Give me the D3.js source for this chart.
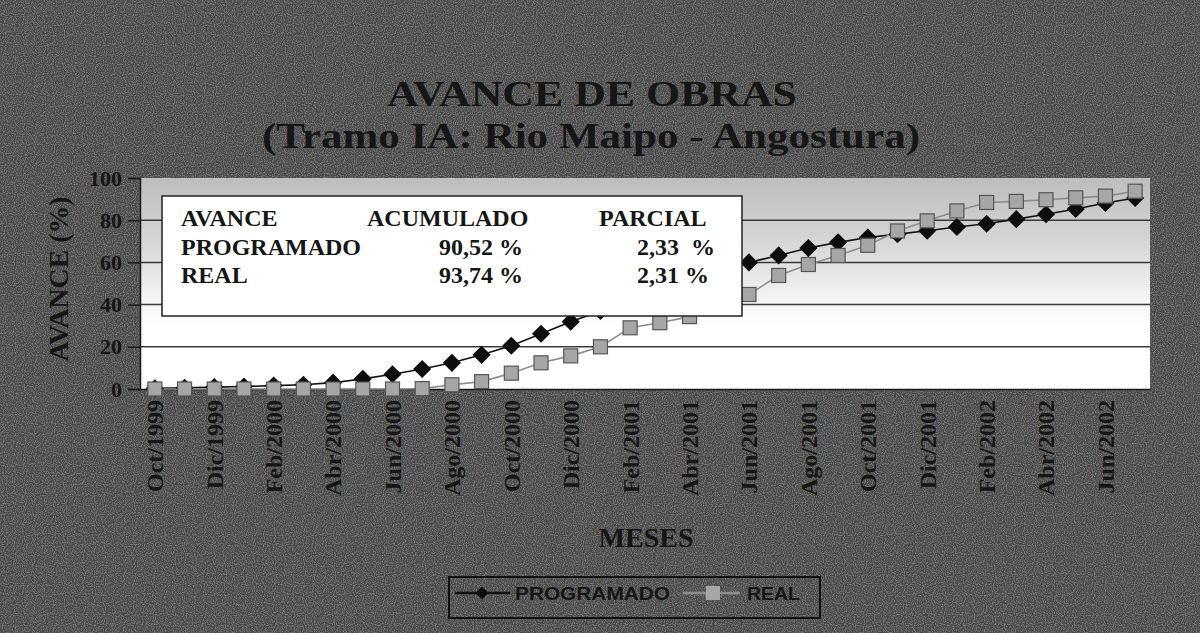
<!DOCTYPE html>
<html>
<head>
<meta charset="utf-8">
<script src="https://cdn.jsdelivr.net/npm/d3@7"></script>
<style>
  body { margin: 0; background: #4a4a4a; }
  text { font-family: "Liberation Serif", "Times New Roman", serif; font-weight: bold; fill: #161616; }
  .legendText { font-family: "Liberation Sans", Arial, sans-serif; }
</style>
</head>
<body>
<div id="main-svg"></div>
<script>
// values
var months = ["Oct/1999","Nov/1999","Dic/1999","Ene/2000","Feb/2000","Mar/2000","Abr/2000","May/2000",
  "Jun/2000","Jul/2000","Ago/2000","Sep/2000","Oct/2000","Nov/2000","Dic/2000","Ene/2001","Feb/2001",
  "Mar/2001","Abr/2001","May/2001","Jun/2001","Jul/2001","Ago/2001","Sep/2001","Oct/2001","Nov/2001",
  "Dic/2001","Ene/2002","Feb/2002","Mar/2002","Abr/2002","May/2002","Jun/2002","Jul/2002"];

var programado = [0.3, 0.6, 0.9, 1.2, 1.6, 2.0, 3.0, 4.8, 7.0, 9.5, 12.4, 16.2, 20.5, 26.2, 31.9, 37.0, 42.0,
  47.0, 52.0, 56.5, 60.0, 63.3, 66.8, 69.5, 71.8, 73.4, 75.0, 76.8, 78.3, 80.5, 82.8, 85.3, 88.19, 90.52];

var real = [0, 0, 0, 0, 0, 0, 0, 0, 0, 0.2, 2.0, 3.5, 7.5, 12.4, 15.7, 20.0, 29.0,
  31.4, 34.3, 38.5, 44.8, 53.8, 59.0, 63.3, 68.1, 74.9, 79.7, 84.4, 88.4, 88.9, 89.7, 90.6, 91.43, 93.74];

var yTicks = [0, 20, 40, 60, 80, 100];
var seriesNames = ["PROGRAMADO", "REAL"];
var boxHeader = ["AVANCE", "ACUMULADO", "PARCIAL"];
var boxAcum = ["90,52 %", "93,74 %"];
var boxParcial = ["2,33  %", "2,31 %"];

var width = 1200, height = 633;
const margin = { top: 178, right: 50, bottom: 244, left: 140 };

var svg = d3.select("#main-svg").append("svg")
  .attr("width", width)
  .attr("height", height);

var defs = svg.append("defs");

// speckled scan texture
var noise = defs.append("filter").attr("id", "noise")
  .attr("x", 0).attr("y", 0).attr("width", "100%").attr("height", "100%");
noise.append("feTurbulence").attr("type", "fractalNoise")
  .attr("baseFrequency", 0.9).attr("numOctaves", 1).attr("seed", 3);
noise.append("feColorMatrix").attr("type", "matrix")
  .attr("values", "0 0 0 0 0.5  0 0 0 0 0.5  0 0 0 0 0.5  3 0 0 0 -1.2");

var grad = defs.append("linearGradient").attr("id", "plotGrad")
  .attr("x1", 0).attr("y1", 0).attr("x2", 0).attr("y2", 1);
grad.append("stop").attr("offset", "0%").attr("stop-color", "#bdbdbd");
grad.append("stop").attr("offset", "30%").attr("stop-color", "#d6d6d6");
grad.append("stop").attr("offset", "55%").attr("stop-color", "#f1f1f1");
grad.append("stop").attr("offset", "70%").attr("stop-color", "#ffffff");
grad.append("stop").attr("offset", "100%").attr("stop-color", "#ffffff");

svg.append("rect").attr("width", width).attr("height", height).attr("fill", "#474747");
svg.append("rect").attr("width", width).attr("height", height)
  .attr("filter", "url(#noise)").attr("opacity", 0.45);

let x = d3.scaleBand()
  .domain(months)
  .range([margin.left, width - margin.right]);

let y = d3.scaleLinear()
  .domain([0, 100])
  .range([height - margin.bottom, margin.top]);

let cx = d => x(d) + x.bandwidth() / 2;

// plot area
svg.append("rect")
  .attr("x", margin.left)
  .attr("y", y(100))
  .attr("width", width - margin.left - margin.right)
  .attr("height", y(0) - y(100))
  .attr("fill", "url(#plotGrad)");

// gridlines
svg.selectAll("line.grid")
  .data(yTicks.filter(d => d > 0 && d < 100))
  .enter().append("line")
  .attr("class", "grid")
  .attr("x1", margin.left).attr("x2", width - margin.right)
  .attr("y1", d => y(d)).attr("y2", d => y(d))
  .attr("stroke", "#3a3a3a").attr("stroke-width", 1.5);

// y axis
let yAxis = d3.axisLeft(y).tickValues(yTicks).tickSize(12).tickPadding(6);
let yg = svg.append("g")
  .attr("transform", `translate(${margin.left},0)`)
  .call(yAxis);
yg.select(".domain").attr("stroke", "#1a1a1a").attr("stroke-width", 1.5);
yg.selectAll(".tick line").attr("stroke", "#1a1a1a").attr("stroke-width", 1.5);
yg.selectAll(".tick text")
  .attr("font-size", 22).attr("font-family", null).attr("fill", null);

// x axis
let xAxis = d3.axisBottom(x)
  .tickValues(months.filter((d, i) => i % 2 == 0))
  .tickSize(0).tickPadding(0);
let xg = svg.append("g")
  .attr("transform", `translate(0,${y(0)})`)
  .call(xAxis);
xg.select(".domain").attr("stroke", "#1a1a1a").attr("stroke-width", 1.5);
xg.selectAll(".tick text")
  .attr("font-size", 24).attr("font-family", null).attr("fill", null)
  .attr("transform", "rotate(-90)")
  .attr("x", -11).attr("y", 0).attr("dy", "0.35em")
  .style("text-anchor", "end");

// series lines
let line = d3.line()
  .x((d, i) => cx(months[i]))
  .y(d => y(d));

svg.append("path").datum(programado)
  .attr("d", line).attr("fill", "none")
  .attr("stroke", "#111").attr("stroke-width", 1.6);

svg.append("path").datum(real)
  .attr("d", line).attr("fill", "none")
  .attr("stroke", "#8c8c8c").attr("stroke-width", 1.6);

// markers
svg.selectAll("path.diamond")
  .data(programado)
  .enter().append("path")
  .attr("class", "diamond")
  .attr("d", d3.symbol(d3.symbolDiamond2, 210))
  .attr("transform", (d, i) => `translate(${cx(months[i])},${y(d)})`)
  .attr("fill", "#0d0d0d");

svg.selectAll("rect.sq")
  .data(real)
  .enter().append("rect")
  .attr("class", "sq")
  .attr("x", (d, i) => cx(months[i]) - 7)
  .attr("y", d => y(d) - 7)
  .attr("width", 14).attr("height", 14)
  .attr("fill", "#a6a6a6")
  .attr("stroke", "#555").attr("stroke-width", 1.2);

// text box with the totals
let box = svg.append("g");
box.append("rect")
  .attr("x", 162).attr("y", 196).attr("width", 580).attr("height", 120)
  .attr("fill", "#fff").attr("stroke", "#222").attr("stroke-width", 1.5);

let colX = [181, 367, 599];
box.selectAll("text.head")
  .data(boxHeader).enter().append("text")
  .attr("class", "head")
  .attr("x", (d, i) => colX[i]).attr("y", 226)
  .attr("font-size", 24)
  .text(d => d);

box.selectAll("text.name")
  .data(seriesNames).enter().append("text")
  .attr("class", "name")
  .attr("x", 181).attr("y", (d, i) => 255 + i * 28)
  .attr("font-size", 24)
  .text(d => d);

box.selectAll("text.acum")
  .data(boxAcum).enter().append("text")
  .attr("class", "acum")
  .attr("x", 523).attr("y", (d, i) => 255 + i * 28)
  .attr("font-size", 24)
  .style("text-anchor", "end")
  .text(d => d);

box.selectAll("text.parc")
  .data(boxParcial).enter().append("text")
  .attr("class", "parc")
  .attr("x", 637).attr("y", (d, i) => 255 + i * 28)
  .attr("font-size", 24)
  .style("white-space", "pre")
  .text(d => d);

// titles
svg.append("text")
  .attr("x", 592).attr("y", 106)
  .attr("font-size", 36)
  .attr("textLength", 410).attr("lengthAdjust", "spacingAndGlyphs")
  .style("text-anchor", "middle")
  .text("AVANCE DE OBRAS");

svg.append("text")
  .attr("x", 591).attr("y", 148)
  .attr("font-size", 36)
  .attr("textLength", 658).attr("lengthAdjust", "spacingAndGlyphs")
  .style("text-anchor", "middle")
  .text("(Tramo IA: Rio Maipo - Angostura)");

svg.append("text")
  .attr("transform", "translate(68,279) rotate(-90)")
  .attr("font-size", 27)
  .attr("textLength", 165).attr("lengthAdjust", "spacingAndGlyphs")
  .style("text-anchor", "middle")
  .text("AVANCE (%)");

svg.append("text")
  .attr("x", 646).attr("y", 547)
  .attr("font-size", 28)
  .style("text-anchor", "middle")
  .text("MESES");

// legend
let legend = svg.append("g");
legend.append("rect")
  .attr("x", 449).attr("y", 577).attr("width", 371).attr("height", 41)
  .attr("fill", "none").attr("stroke", "#111").attr("stroke-width", 2);

legend.append("line")
  .attr("x1", 455).attr("x2", 510).attr("y1", 593).attr("y2", 593)
  .attr("stroke", "#111").attr("stroke-width", 2.5);
legend.append("path")
  .attr("d", d3.symbol(d3.symbolDiamond2, 110))
  .attr("transform", "translate(482,593)")
  .attr("fill", "#0d0d0d");

legend.append("line")
  .attr("x1", 683).attr("x2", 740).attr("y1", 593).attr("y2", 593)
  .attr("stroke", "#8c8c8c").attr("stroke-width", 2.5);
legend.append("rect")
  .attr("x", 706).attr("y", 586).attr("width", 14).attr("height", 14)
  .attr("fill", "#a6a6a6");

legend.selectAll("text.legendText")
  .data(seriesNames).enter().append("text")
  .attr("class", "legendText")
  .attr("x", (d, i) => i == 0 ? 515 : 747)
  .attr("y", 600)
  .attr("font-size", 19)
  .attr("textLength", (d, i) => i == 0 ? 155 : 53)
  .attr("lengthAdjust", "spacingAndGlyphs")
  .text(d => d);
</script>
</body>
</html>
